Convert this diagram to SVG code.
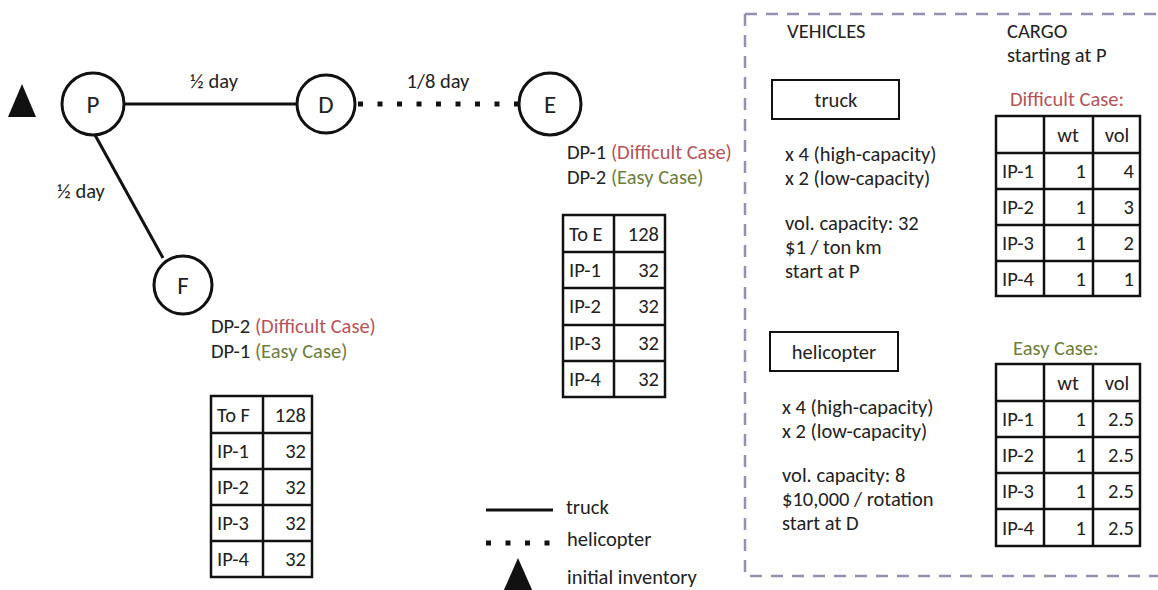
<svg xmlns="http://www.w3.org/2000/svg" width="1158" height="590" viewBox="0 0 1158 590">
<style>
text{font-family:Carlito,Lato,"Liberation Sans",sans-serif;font-size:20.5px;fill:#222}
.node circle{fill:#fff;stroke:#111;stroke-width:3}
.node text{font-size:25px;text-anchor:middle}
.truck{stroke:#111;stroke-width:3;fill:none}
.heli{stroke:#111;stroke-width:5;stroke-dasharray:5 14.5;fill:none}
.red{fill:#b5545a}
.green{fill:#6e7d3c}
.tbl rect,.tbl line{fill:none;stroke:#111;stroke-width:2.5}
.r{text-anchor:end}
.m{text-anchor:middle}
.box{fill:none;stroke:#111;stroke-width:2}
</style>
<g id="connectors">
<line class="truck" x1="124" y1="104" x2="296" y2="104"/>
<line class="truck" x1="95" y1="135" x2="163" y2="258"/>
<line class="heli" x1="358" y1="104" x2="520" y2="104"/>
<text x="214" y="88" class="m">½ day</text>
<text x="438" y="88" class="m">1/8 day</text>
<text x="57" y="198">½ day</text>
</g>
<polygon id="inventory" points="22,84 36,117 8,117" fill="#111"/>
<g id="P" class="node"><circle cx="93" cy="104" r="31"/><text x="93" y="113">P</text></g>
<g id="D" class="node"><circle cx="326" cy="104" r="29"/><text x="326" y="113">D</text></g>
<g id="E" class="node"><circle cx="550" cy="104" r="31"/><text x="550" y="113">E</text></g>
<g id="F" class="node"><circle cx="183" cy="285" r="29"/><text x="183" y="294">F</text></g>
<g id="E-labels">
<text x="567" y="159">DP-1 <tspan class="red">(Difficult Case)</tspan></text>
<text x="567" y="184">DP-2 <tspan class="green">(Easy Case)</tspan></text>
</g>
<g id="F-labels">
<text x="211" y="333">DP-2 <tspan class="red">(Difficult Case)</tspan></text>
<text x="211" y="358">DP-1 <tspan class="green">(Easy Case)</tspan></text>
</g>
<g id="tableE" class="tbl">
<rect x="563" y="215" width="102" height="182"/>
<line x1="614" y1="215" x2="614" y2="397"/>
<line x1="563" y1="252" x2="665" y2="252"/>
<line x1="563" y1="288" x2="665" y2="288"/>
<line x1="563" y1="325" x2="665" y2="325"/>
<line x1="563" y1="361" x2="665" y2="361"/>
<text x="569" y="241">To E</text><text x="659" y="241" class="r">128</text>
<text x="569" y="277">IP-1</text><text x="659" y="277" class="r">32</text>
<text x="569" y="313">IP-2</text><text x="659" y="313" class="r">32</text>
<text x="569" y="350">IP-3</text><text x="659" y="350" class="r">32</text>
<text x="569" y="386">IP-4</text><text x="659" y="386" class="r">32</text>
</g>
<g id="tableF" class="tbl">
<rect x="211" y="396" width="101" height="181"/>
<line x1="263" y1="396" x2="263" y2="577"/>
<line x1="211" y1="433" x2="312" y2="433"/>
<line x1="211" y1="469" x2="312" y2="469"/>
<line x1="211" y1="505" x2="312" y2="505"/>
<line x1="211" y1="541" x2="312" y2="541"/>
<text x="217" y="422">To F</text><text x="306" y="422" class="r">128</text>
<text x="217" y="458">IP-1</text><text x="306" y="458" class="r">32</text>
<text x="217" y="494">IP-2</text><text x="306" y="494" class="r">32</text>
<text x="217" y="530">IP-3</text><text x="306" y="530" class="r">32</text>
<text x="217" y="566">IP-4</text><text x="306" y="566" class="r">32</text>
</g>
<g id="legend">
<line class="truck" x1="486" y1="510" x2="553" y2="510"/>
<text x="566" y="514">truck</text>
<line class="heli" x1="486" y1="543" x2="555" y2="543" stroke-dasharray="5 16"/>
<text x="567" y="546">helicopter</text>
<polygon points="518,558 533,592 503,592" fill="#111"/>
<text x="567" y="584">initial inventory</text>
</g>
<g id="panel">
<path d="M745,14 H1158 M745,14 V576 H1158" fill="none" stroke="#9590b0" stroke-width="2.5" stroke-dasharray="12 9"/>
<text x="787" y="38">VEHICLES</text>
<text x="1007" y="38">CARGO</text>
<text x="1007" y="62">starting at P</text>
</g>
<g id="truckBox">
<rect class="box" x="772" y="80" width="127" height="39"/>
<text x="836" y="107" class="m">truck</text>
<text x="785" y="161">x 4 (high-capacity)</text>
<text x="785" y="185">x 2 (low-capacity)</text>
<text x="785" y="230">vol. capacity: 32</text>
<text x="785" y="254">$1 / ton km</text>
<text x="785" y="278">start at P</text>
</g>
<g id="helicopterBox">
<rect class="box" x="770" y="332" width="128" height="39"/>
<text x="834" y="359" class="m">helicopter</text>
<text x="782" y="414">x 4 (high-capacity)</text>
<text x="782" y="438">x 2 (low-capacity)</text>
<text x="782" y="482">vol. capacity: 8</text>
<text x="782" y="506">$10,000 / rotation</text>
<text x="782" y="530">start at D</text>
</g>
<g id="difficultTable" class="tbl">
<text x="1010" y="106" class="red">Difficult Case:</text>
<rect x="996" y="116" width="144" height="180"/>
<line x1="1044" y1="116" x2="1044" y2="296"/>
<line x1="1093" y1="116" x2="1093" y2="296"/>
<line x1="996" y1="153" x2="1140" y2="153"/>
<line x1="996" y1="189" x2="1140" y2="189"/>
<line x1="996" y1="225" x2="1140" y2="225"/>
<line x1="996" y1="261" x2="1140" y2="261"/>
<text x="1068" y="142" class="m">wt</text><text x="1117" y="142" class="m">vol</text>
<text x="1002" y="178">IP-1</text><text x="1086" y="178" class="r">1</text><text x="1134" y="178" class="r">4</text>
<text x="1002" y="214">IP-2</text><text x="1086" y="214" class="r">1</text><text x="1134" y="214" class="r">3</text>
<text x="1002" y="250">IP-3</text><text x="1086" y="250" class="r">1</text><text x="1134" y="250" class="r">2</text>
<text x="1002" y="286">IP-4</text><text x="1086" y="286" class="r">1</text><text x="1134" y="286" class="r">1</text>
</g>
<g id="easyTable" class="tbl">
<text x="1013" y="355" class="green">Easy Case:</text>
<rect x="996" y="364" width="144" height="182"/>
<line x1="1044" y1="364" x2="1044" y2="546"/>
<line x1="1093" y1="364" x2="1093" y2="546"/>
<line x1="996" y1="401" x2="1140" y2="401"/>
<line x1="996" y1="437" x2="1140" y2="437"/>
<line x1="996" y1="473" x2="1140" y2="473"/>
<line x1="996" y1="509" x2="1140" y2="509"/>
<text x="1068" y="390" class="m">wt</text><text x="1117" y="390" class="m">vol</text>
<text x="1002" y="426">IP-1</text><text x="1086" y="426" class="r">1</text><text x="1134" y="426" class="r">2.5</text>
<text x="1002" y="462">IP-2</text><text x="1086" y="462" class="r">1</text><text x="1134" y="462" class="r">2.5</text>
<text x="1002" y="498">IP-3</text><text x="1086" y="498" class="r">1</text><text x="1134" y="498" class="r">2.5</text>
<text x="1002" y="535">IP-4</text><text x="1086" y="535" class="r">1</text><text x="1134" y="535" class="r">2.5</text>
</g>
</svg>
